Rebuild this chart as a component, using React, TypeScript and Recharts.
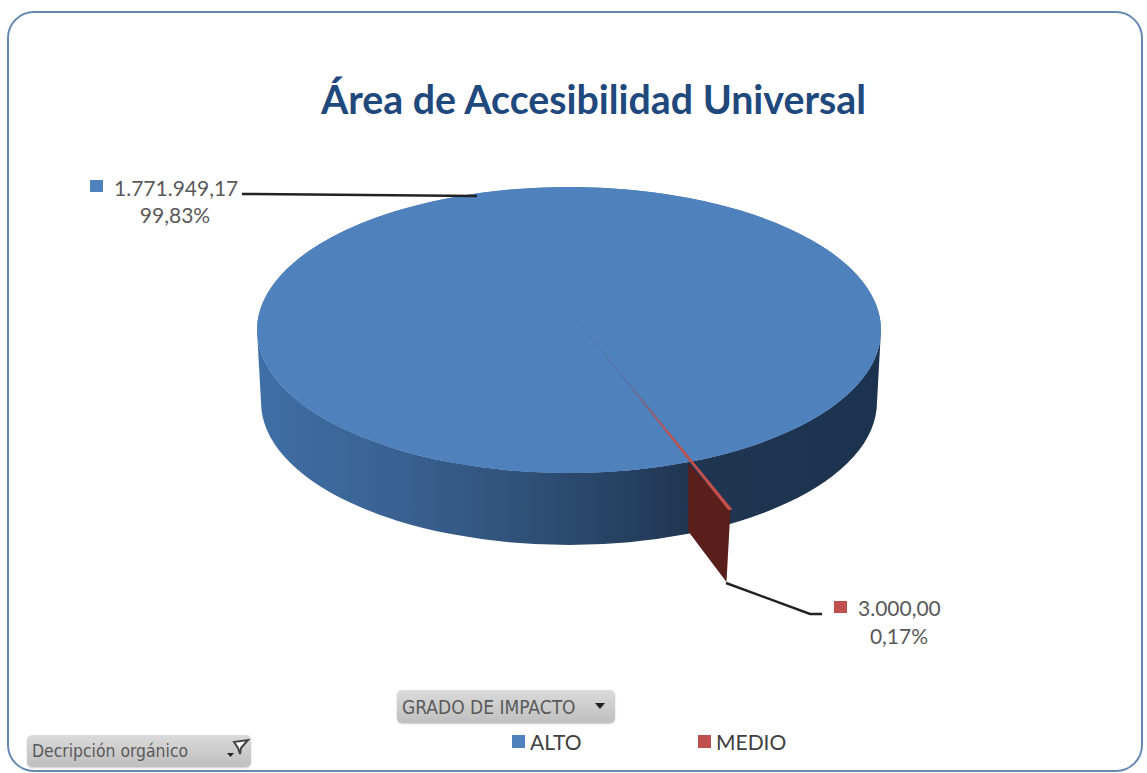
import React from 'react'
import { Legend, Pie, PieChart } from 'recharts'

const categories = ['ALTO', 'MEDIO']
const amounts = [1771949.17, 3000]
const colors = ['#4f81bd', '#c0504d']
const valueLabels = ['1.771.949,17', '3.000,00']
const percentLabels = ['99,83%', '0,17%']

const chartData = categories.map((name, i) => ({ name, value: amounts[i], fill: colors[i] }))

const FONT = 'Lato, Carlito, sans-serif'
const SQUASH = 143 / 312 // ellipse ratio of the tilted disc
const DEPTH = 72
const APEX_DX = 4 // perspective moves the visual centre off the ellipse centre
const APEX_DY = -15
const EXPLODE = 1.33 // the small slice is pulled out of the pie

const rad = (a: number) => (a * Math.PI) / 180

function Slice3D(props: any) {
  const { cx, cy, outerRadius: rx, startAngle, endAngle, index } = props
  const ry = rx * SQUASH
  const a0 = Math.min(startAngle, endAngle)
  const a1 = Math.max(startAngle, endAngle)
  const rim = (a: number): [number, number] => [cx + rx * Math.cos(rad(a)), cy - ry * Math.sin(rad(a))]
  const ax = cx + APEX_DX
  const ay = cy + APEX_DY
  const [x0, y0] = rim(a0)
  const [x1, y1] = rim(a1)

  if (index === 0) {
    const brx = rx - 4
    const top = `M${ax},${ay} L${x0},${y0} A${rx},${ry} 0 1 0 ${x1},${y1} Z`
    const wall =
      `M${cx - rx},${cy} L${cx - brx},${cy + DEPTH} A${brx},${ry} 0 0 0 ${cx + brx},${cy + DEPTH} ` +
      `L${cx + rx},${cy} A${rx},${ry} 0 0 1 ${cx - rx},${cy} Z`
    return (
      <g>
        <defs>
          <linearGradient id='wallBlue' x1='0' y1='0' x2='1' y2='0'>
            <stop offset='0%' stopColor='#3f6fa5' />
            <stop offset='25%' stopColor='#38608f' />
            <stop offset='50%' stopColor='#2c4a6e' />
            <stop offset='70%' stopColor='#1f3550' />
            <stop offset='100%' stopColor='#1c3350' />
          </linearGradient>
        </defs>
        <path d={wall} fill='url(#wallBlue)' />
        <ellipse cx={cx} cy={cy} rx={rx} ry={ry} fill={props.fill} />
        <path d={top} fill={props.fill} />
      </g>
    )
  }

  const out = (x: number, y: number): [number, number] => [ax + (x - ax) * EXPLODE, ay + (y - ay) * EXPLODE]
  const [tx0, ty0] = out(x0, y0)
  const [tx1, ty1] = out(x1, y1)
  const midA = (a0 + a1) / 2
  const [mx, my] = rim(midA)
  const [tmx, tmy] = out(mx, my)
  return (
    <g>
      <defs>
        <linearGradient id='sliver' gradientUnits='userSpaceOnUse' x1={ax} y1={ay} x2={tmx} y2={tmy}>
          <stop offset='0%' stopColor='#4a76ad' />
          <stop offset='35%' stopColor='#5a6b9c' />
          <stop offset='60%' stopColor={props.fill} />
          <stop offset='100%' stopColor='#c4504a' />
        </linearGradient>
      </defs>
      <polygon
        points={`${mx - 3},${my + 2} ${tmx},${tmy} ${tmx - 4},${tmy + DEPTH} ${mx - 3},${my + DEPTH - 2}`}
        fill='#5a1f1b'
      />
      <path d={`M${ax},${ay} L${tx0},${ty0} L${tx1},${ty1} Z`} fill='url(#sliver)' />
    </g>
  )
}

function SliceLabel(props: any) {
  const { index } = props
  const line = index === 0 ? '242,194 477,196' : '726,583 810,614 822,614'
  const sx = index === 0 ? 90 : 834
  const sy = index === 0 ? 180 : 601
  const tx = index === 0 ? 114 : 858
  const ty = index === 0 ? 196 : 616
  const py = index === 0 ? 223 : 644
  const px = index === 0 ? 175 : 899
  return (
    <g>
      <polyline points={line} fill='none' stroke='#222' strokeWidth={2.5} />
      <rect x={sx} y={sy} width={13} height={12} fill={colors[index]} />
      <text x={tx} y={ty} fontFamily={FONT} fontSize={21} fill='#595959'>
        {valueLabels[index]}
      </text>
      <text x={px} y={py} textAnchor='middle' fontFamily={FONT} fontSize={21} fill='#595959'>
        {percentLabels[index]}
      </text>
    </g>
  )
}

function LegendRow({ payload }: any) {
  return (
    <div style={{ position: 'relative', height: 30, fontFamily: FONT, fontSize: 21, color: '#404040' }}>
      {(payload || []).map((item: any, i: number) => (
        <div key={item.value} style={{ position: 'absolute', left: i * 186, top: 0, display: 'flex', alignItems: 'center' }}>
          <span style={{ width: 13, height: 13, background: item.color, marginRight: 5 }} />
          <span>{item.value}</span>
        </div>
      ))}
    </div>
  )
}

const buttonStyle: React.CSSProperties = {
  position: 'absolute',
  boxSizing: 'border-box',
  background: 'linear-gradient(#dadada, #bfbfbf)',
  borderRadius: 5,
  fontFamily: '"DejaVu Sans Condensed", "DejaVu Sans", sans-serif',
  fontSize: 17.4,
  color: '#5a5a5a',
  display: 'flex',
  alignItems: 'center',
  paddingLeft: 5,
  whiteSpace: 'nowrap',
  boxShadow: '0 1px 2px rgba(0,0,0,0.2)',
}

export default function App() {
  return (
    <div style={{ position: 'absolute', left: 0, top: 0, width: 1147, height: 773, background: '#fff', overflow: 'hidden' }}>
      <PieChart width={1147} height={773} margin={{ top: 0, right: 0, bottom: 0, left: 0 }}>
        <rect x={8} y={12} width={1134} height={759} rx={26} ry={26} fill='#fff' stroke='#6488b2' strokeWidth={2} />
        <text x={593.5} y={114} textAnchor='middle' fontFamily={FONT} fontWeight={700} fontSize={39.3} fill='#1f497d'>
          Área de Accesibilidad Universal
        </text>
        <Legend
          content={<LegendRow />}
          wrapperStyle={{ position: 'absolute', left: 512, top: 729, width: 300, bottom: 'auto' }}
        />
        <Pie
          data={chartData}
          dataKey='value'
          nameKey='name'
          cx={569}
          cy={330}
          innerRadius={0}
          outerRadius={312}
          startAngle={-66.6}
          endAngle={293.4}
          stroke='none'
          labelLine={false}
          label={<SliceLabel />}
          shape={<Slice3D />}
          isAnimationActive={false}
        />
      </PieChart>
      <div style={{ ...buttonStyle, left: 397, top: 690, width: 218, height: 33, fontSize: 19 }}>
        GRADO DE IMPACTO
        <span style={{ position: 'absolute', left: 198, top: 13, borderLeft: '5px solid transparent', borderRight: '5px solid transparent', borderTop: '6px solid #222' }} />
      </div>
      <div style={{ ...buttonStyle, left: 27, top: 735, width: 224, height: 32 }}>
        Decripción orgánico
        <svg width={28} height={26} style={{ position: 'absolute', left: 198, top: 3 }}>
          <path d='M9,4 L23,2 L16,10 L15,16 L13,10 Z' fill='#fff' stroke='#444' strokeWidth={2} />
          <path d='M2,15 L9,15 L5.5,19 Z' fill='#222' />
        </svg>
      </div>
    </div>
  )
}
